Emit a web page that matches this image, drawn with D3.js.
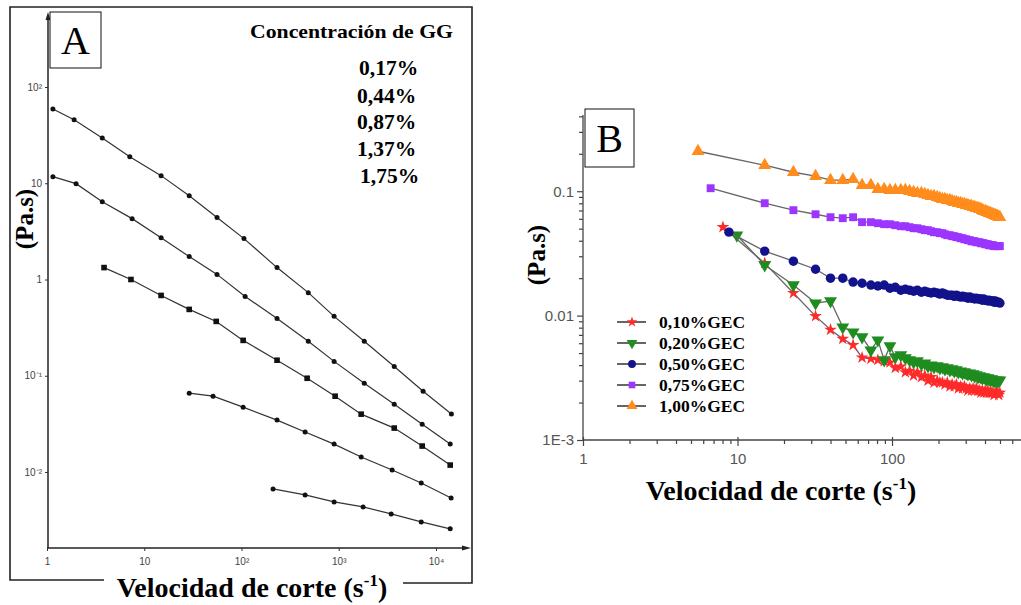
<!DOCTYPE html>
<html>
<head>
<meta charset="utf-8">
<script src="https://cdn.jsdelivr.net/npm/d3@7"></script>
<style>
  body { margin: 0; background: #fff; }
  svg { display: block; }
</style>
</head>
<body>
<svg class="figure" width="1021" height="605"></svg>
<script>

// ---------- panel A data ----------
let labelsA = ["0,17%", "0,44%", "0,87%", "1,37%", "1,75%"];
let rateA1 = [1.15, 1.9, 3.7, 7.1, 14.9, 29, 56, 106, 232, 486, 896, 1830, 3720, 7370, 14400];
let etaA1  = [59, 45.6, 29.6, 18.8, 12, 7.4, 4.4, 2.66, 1.33, 0.73, 0.414, 0.228, 0.125, 0.069, 0.040];
let rateA2 = [1.15, 1.99, 3.7, 7.5, 14.9, 29, 56, 109, 232, 486, 896, 1830, 3720, 7210, 14000];
let etaA2  = [11.7, 9.9, 6.43, 4.29, 2.72, 1.73, 1.13, 0.667, 0.394, 0.228, 0.141, 0.0836, 0.0507, 0.0314, 0.0195];
let rateA3 = [3.86, 7.3, 14.9, 29, 55, 104, 232, 473, 918, 1700, 3720, 7210, 14000];
let etaA3  = [1.33, 1.0, 0.683, 0.489, 0.367, 0.233, 0.145, 0.0942, 0.0613, 0.0399, 0.0286, 0.0186, 0.0118];
let rateA4 = [29, 51, 104, 232, 451, 896, 1700, 3540, 7050, 14300];
let etaA4  = [0.0659, 0.0613, 0.0472, 0.0346, 0.026, 0.0195, 0.0143, 0.0105, 0.00769, 0.00538];
let rateA5 = [211, 451, 896, 1780, 3460, 7050, 14000];
let etaA5  = [0.00667, 0.00578, 0.00489, 0.00434, 0.00367, 0.00303, 0.00257];

let xTicksA = [1, 10, 100, 1000, 10000];
let xTickLabelsA = ["1", "10", "10²", "10³", "10⁴"];
let yTicksA = [100, 10, 1, 0.1, 0.01];
let yTickLabelsA = ["10²", "10", "1", "10⁻¹", "10⁻²"];

// ---------- panel B data ----------
let labelsB = ["0,10%GEC", "0,20%GEC", "0,50%GEC", "0,75%GEC", "1,00%GEC"];
let startRateB = [8.05, 9.9, 8.8, 6.7, 5.55];
let rateB = [15, 23, 32, 40, 48, 56, 64, 73, 81, 89, 97, 105, 114, 122, 130, 138, 146, 155, 163, 171,
  179, 187, 196, 204, 212, 220, 228, 237, 245, 253, 261, 269, 278, 286, 294, 302, 310, 319, 327, 335,
  343, 351, 360, 368, 376, 384, 392, 401, 409, 417, 425, 433, 442, 450, 458, 466, 474, 483, 491, 499];

let eta010 = [0.0514, 0.0264, 0.0152, 0.0099, 0.0077, 0.0065, 0.0058, 0.0046, 0.0045, 0.0044, 0.0043,
  0.0042, 0.0038, 0.0039, 0.0035, 0.0036, 0.0033, 0.0035, 0.0032, 0.0033, 0.0030,
  0.0032, 0.0029, 0.0030, 0.0029, 0.0029, 0.0028, 0.0029, 0.0027, 0.0028, 0.0027,
  0.0028, 0.0026, 0.0027, 0.0026, 0.0027, 0.0026, 0.0025, 0.0026, 0.0025, 0.0026,
  0.0025, 0.0026, 0.0025, 0.0025, 0.0024, 0.0025, 0.0024, 0.0025, 0.0024, 0.0025,
  0.0024, 0.0024, 0.0024, 0.0024, 0.0023, 0.0024, 0.0024, 0.0024, 0.0023, 0.0024];
let eta020 = [0.0443, 0.0255, 0.0176, 0.0126, 0.0131, 0.00808, 0.00737, 0.00672, 0.00528, 0.00635, 0.00439,
  0.00569, 0.00464, 0.00482, 0.00456, 0.00439, 0.00423, 0.00431, 0.00408, 0.00415, 0.00393,
  0.00400, 0.00386, 0.00393, 0.00379, 0.00386, 0.00372, 0.00379, 0.00365, 0.00372, 0.00358,
  0.00365, 0.00352, 0.00358, 0.00345, 0.00352, 0.00345, 0.00339, 0.00345, 0.00333, 0.00339,
  0.00327, 0.00333, 0.00321, 0.00327, 0.00321, 0.00315, 0.00321, 0.00315, 0.00309, 0.00315,
  0.00309, 0.00303, 0.00309, 0.00303, 0.00298, 0.00303, 0.00298, 0.00303, 0.00298, 0.00303];
let eta050 = [0.0469, 0.0330, 0.0274, 0.0236, 0.0200, 0.0200, 0.0186, 0.0182, 0.0176, 0.0173, 0.0176,
  0.0166, 0.0169, 0.0160, 0.0163, 0.0160, 0.0157, 0.0160, 0.0154, 0.0157, 0.0154,
  0.0152, 0.0154, 0.0152, 0.0149, 0.0152, 0.0149, 0.0146, 0.0146, 0.0146, 0.0143,
  0.0146, 0.0143, 0.0141, 0.0143, 0.0141, 0.0141, 0.0138, 0.0141, 0.0138, 0.0138,
  0.0136, 0.0138, 0.0136, 0.0136, 0.0136, 0.0133, 0.0136, 0.0133, 0.0133, 0.0131,
  0.0133, 0.0131, 0.0131, 0.0131, 0.0128, 0.0131, 0.0128, 0.0128, 0.0128, 0.0126];
let eta075 = [0.1057, 0.0801, 0.0704, 0.0653, 0.0618, 0.0607, 0.0618, 0.0564, 0.0564, 0.0553, 0.0543,
  0.0543, 0.0533, 0.0523, 0.0523, 0.0514, 0.0504, 0.0504, 0.0495, 0.0486, 0.0486,
  0.0477, 0.0468, 0.0468, 0.0460, 0.0460, 0.0451, 0.0443, 0.0443, 0.0435, 0.0435,
  0.0427, 0.0427, 0.0419, 0.0419, 0.0411, 0.0411, 0.0404, 0.0404, 0.0396, 0.0396,
  0.0396, 0.0389, 0.0389, 0.0389, 0.0382, 0.0382, 0.0382, 0.0375, 0.0375, 0.0375,
  0.0368, 0.0368, 0.0368, 0.0368, 0.0362, 0.0362, 0.0362, 0.0362, 0.0362, 0.0362];
let eta100 = [0.2096, 0.1618, 0.1421, 0.1320, 0.1226, 0.1226, 0.1248, 0.1117, 0.1117, 0.1038, 0.1038,
  0.1019, 0.1019, 0.1019, 0.1019, 0.1000, 0.0982, 0.0964, 0.0964, 0.0946, 0.0929,
  0.0912, 0.0912, 0.0895, 0.0879, 0.0863, 0.0863, 0.0847, 0.0847, 0.0831, 0.0816,
  0.0816, 0.0801, 0.0801, 0.0786, 0.0786, 0.0772, 0.0772, 0.0758, 0.0758, 0.0744,
  0.0744, 0.0730, 0.0730, 0.0717, 0.0717, 0.0704, 0.0691, 0.0691, 0.0678, 0.0678,
  0.0666, 0.0666, 0.0653, 0.0653, 0.0641, 0.0641, 0.0630, 0.0630, 0.0618, 0.0618];

let xTicksB = [1, 10, 100];
let xTickLabelsB = ["1", "10", "100"];
let yTicksB = [0.1, 0.01, 0.001];
let yTickLabelsB = ["0.1", "0.01", "1E-3"];

// ---------- styles ----------
let serif = "'Liberation Serif', 'Times New Roman', serif";
let sans = "'Liberation Sans', Arial, sans-serif";
let colorsB = ["#ff2a2a", "#1f8c1f", "#12128c", "#9b35ff", "#ff8c1c"];
let symbolsB = [d3.symbolStar, d3.symbolTriangle, d3.symbolCircle, d3.symbolSquare, d3.symbolTriangle];
let flipB = [false, true, false, false, false];
let sizesB = [50, 72, 70, 62, 72];

let svg = d3.select("body").select(".figure");
svg.append("rect").attr("width", 1021).attr("height", 605).attr("fill", "#fff");

function translate(x, y) {
  return 'translate(' + x + ',' + y + ')';
}

// =====================================================================
// panel A
// =====================================================================
let xA = d3.scaleLog().domain([1, 10000]).range([47, 436]);
let yA = d3.scaleLog().domain([100, 0.01]).range([87, 472]);

let panelA = svg.append("g").attr("id", "panel-a");

// outer frame (bottom edge is broken by the axis title)
let frame = panelA.append("g").attr("stroke", "#222").attr("stroke-width", 1.6).attr("fill", "none");
frame.append("path").attr("d", "M104,580 H10 V7 H472 V583 H403");

// axis lines with arrow heads
panelA.append("line").attr("x1", 48).attr("y1", 16).attr("x2", 48).attr("y2", 548)
  .attr("stroke", "#222").attr("stroke-width", 1.5);
panelA.append("line").attr("x1", 47).attr("y1", 548).attr("x2", 466).attr("y2", 548)
  .attr("stroke", "#222").attr("stroke-width", 1.5);
panelA.append("path").attr("d", "M48,12 L45.5,20 L50.5,20 Z").attr("fill", "#222");
panelA.append("path").attr("d", "M471,548 L462,545.5 L462,550.5 Z").attr("fill", "#222");

let yAxisA = d3.axisLeft(yA).tickValues(yTicksA).tickSize(3)
  .tickFormat((d, i) => yTickLabelsA[i]);
panelA.append("g").attr("transform", translate(48, 0)).call(yAxisA)
  .call(g => g.select(".domain").remove())
  .call(g => g.selectAll("line").attr("stroke", "#333"))
  .call(g => g.selectAll("text").attr("font-family", sans).attr("font-size", 10).attr("fill", "#444"));

let xAxisA = d3.axisBottom(xA).tickValues(xTicksA).tickSize(3)
  .tickFormat((d, i) => xTickLabelsA[i]);
panelA.append("g").attr("transform", translate(0, 548)).call(xAxisA)
  .call(g => g.select(".domain").remove())
  .call(g => g.selectAll("line").attr("stroke", "#333"))
  .call(g => g.selectAll("text").attr("font-family", sans).attr("font-size", 10).attr("fill", "#444").attr("dy", "1.1em"));

let seriesA = [
  { rate: rateA1, eta: etaA1, square: false },
  { rate: rateA2, eta: etaA2, square: false },
  { rate: rateA3, eta: etaA3, square: true },
  { rate: rateA4, eta: etaA4, square: false },
  { rate: rateA5, eta: etaA5, square: false }
];

let lineA = d3.line().x(d => xA(d[0])).y(d => yA(d[1]));

seriesA.forEach(s => {
  let pts = s.rate.map((r, i) => [r, s.eta[i]]);
  panelA.append("path").datum(pts).attr("d", lineA)
    .attr("fill", "none").attr("stroke", "#333").attr("stroke-width", 1.2);
  let g = panelA.append("g").attr("fill", "#111");
  if (s.square) {
    g.selectAll("rect").data(pts).join("rect")
      .attr("x", d => xA(d[0]) - 2.8).attr("y", d => yA(d[1]) - 2.8)
      .attr("width", 5.6).attr("height", 5.6);
  } else {
    g.selectAll("circle").data(pts).join("circle")
      .attr("cx", d => xA(d[0])).attr("cy", d => yA(d[1])).attr("r", 2.5);
  }
});

// "A" box
panelA.append("rect").attr("x", 50).attr("y", 12).attr("width", 51).attr("height", 56)
  .attr("fill", "#fff").attr("stroke", "#111").attr("stroke-width", 1);
panelA.append("text").attr("x", 75.5).attr("y", 54).attr("text-anchor", "middle")
  .attr("font-family", serif).attr("font-size", 40).text("A");

// concentration list
panelA.append("text").attr("x", 250).attr("y", 38)
  .attr("font-family", serif).attr("font-weight", "bold").attr("font-size", 19)
  .attr("textLength", 203).attr("lengthAdjust", "spacingAndGlyphs")
  .text("Concentración de GG");
let concX = [359, 357, 357, 357, 360];
let concY = [75, 103, 129, 156, 183];
panelA.selectAll(".conc").data(labelsA).join("text").attr("class", "conc")
  .attr("x", (d, i) => concX[i]).attr("y", (d, i) => concY[i])
  .attr("font-family", serif).attr("font-weight", "bold").attr("font-size", 21.5)
  .text(d => d);

// axis titles
panelA.append("text").attr("transform", translate(33, 219) + " rotate(-90)")
  .attr("text-anchor", "middle").attr("font-family", serif).attr("font-weight", "bold")
  .attr("font-size", 25).text("(Pa.s)");

function axisTitle(g, x, y) {
  let t = g.append("text").attr("x", x).attr("y", y).attr("text-anchor", "middle")
    .attr("font-family", serif).attr("font-weight", "bold").attr("font-size", 28);
  t.append("tspan").text("Velocidad de corte (s");
  t.append("tspan").attr("font-size", 17).attr("dy", -11).text("-1");
  t.append("tspan").attr("dy", 11).text(")");
}
axisTitle(panelA, 252, 597);

// =====================================================================
// panel B
// =====================================================================
let xB = d3.scaleLog().domain([1, 1000]).range([583, 1046.5]);
let yB = d3.scaleLog().domain([0.001, 0.41]).range([440, 115]);

let panelB = svg.append("g").attr("id", "panel-b");

let minorX = xB.ticks().filter(d => !xTicksB.includes(d) && xB(d) < 1021);
let minorY = yB.ticks().filter(d => !yTicksB.includes(d) && d <= 0.41);

panelB.append("g").attr("transform", translate(0, 440))
  .call(d3.axisBottom(xB).tickValues(minorX).tickSize(4).tickFormat(""))
  .call(g => g.select(".domain").remove())
  .call(g => g.selectAll("line").attr("stroke", "#444").attr("stroke-width", 1.2));
panelB.append("g").attr("transform", translate(583, 0))
  .call(d3.axisLeft(yB).tickValues(minorY).tickSize(4).tickFormat(""))
  .call(g => g.select(".domain").remove())
  .call(g => g.selectAll("line").attr("stroke", "#444").attr("stroke-width", 1.2));

panelB.append("g").attr("transform", translate(0, 440))
  .call(d3.axisBottom(xB).tickValues(xTicksB).tickSize(6).tickFormat((d, i) => xTickLabelsB[i]))
  .call(g => g.select(".domain").remove())
  .call(g => g.selectAll("line").attr("stroke", "#444").attr("stroke-width", 1.2).attr("y1", -3))
  .call(g => g.selectAll("text").attr("font-family", sans).attr("font-size", 15).attr("fill", "#555").attr("dy", "1.0em"));
panelB.append("g").attr("transform", translate(583, 0))
  .call(d3.axisLeft(yB).tickValues(yTicksB).tickSize(6).tickFormat((d, i) => yTickLabelsB[i]))
  .call(g => g.select(".domain").remove())
  .call(g => g.selectAll("line").attr("stroke", "#444").attr("stroke-width", 1.2))
  .call(g => g.selectAll("text").attr("font-family", sans).attr("font-size", 15).attr("fill", "#555"));

panelB.append("line").attr("x1", 583).attr("y1", 115).attr("x2", 583).attr("y2", 440)
  .attr("stroke", "#444").attr("stroke-width", 1.3);
panelB.append("line").attr("x1", 583).attr("y1", 440).attr("x2", 1021).attr("y2", 440)
  .attr("stroke", "#444").attr("stroke-width", 1.3);

let etaB = [eta010, eta020, eta050, eta075, eta100];
let lineB = d3.line().x(d => xB(d[0])).y(d => yB(d[1]));

function marker(i, k) {
  return d3.symbol().type(symbolsB[i]).size(sizesB[i] * k)();
}

etaB.forEach((eta, i) => {
  let rates = [startRateB[i]].concat(rateB);
  console.assert(rates.length == eta.length, labelsB[i]);
  let pts = rates.map((r, k) => [r, eta[k]]);
  panelB.append("path").datum(pts).attr("d", lineB)
    .attr("fill", "none").attr("stroke", "#666").attr("stroke-width", 1.3);
  panelB.append("g").selectAll("path").data(pts).join("path")
    .attr("d", marker(i, 1))
    .attr("transform", d => translate(xB(d[0]), yB(d[1])) + (flipB[i] ? " rotate(180)" : ""))
    .attr("fill", colorsB[i]);
});

// legend
let legend = panelB.append("g").attr("transform", translate(617, 322));
labelsB.forEach((lab, i) => {
  let row = legend.append("g").attr("transform", translate(0, i * 21));
  row.append("line").attr("x1", 0).attr("x2", 29).attr("stroke", "#666").attr("stroke-width", 2);
  row.append("path").attr("d", marker(i, 0.7))
    .attr("transform", translate(15, 0) + (flipB[i] ? " rotate(180)" : ""))
    .attr("fill", colorsB[i]);
  row.append("text").attr("x", 42).attr("y", 6)
    .attr("font-family", serif).attr("font-weight", "bold").attr("font-size", 17.5)
    .text(lab);
});

// "B" box
panelB.append("rect").attr("x", 585).attr("y", 109).attr("width", 49).attr("height", 58)
  .attr("fill", "#fff").attr("stroke", "#111").attr("stroke-width", 1);
panelB.append("text").attr("x", 609.5).attr("y", 152).attr("text-anchor", "middle")
  .attr("font-family", serif).attr("font-size", 40).text("B");

panelB.append("text").attr("transform", translate(545, 255) + " rotate(-90)")
  .attr("text-anchor", "middle").attr("font-family", serif).attr("font-weight", "bold")
  .attr("font-size", 25).text("(Pa.s)");

axisTitle(panelB, 781, 500);

</script>
</body>
</html>
